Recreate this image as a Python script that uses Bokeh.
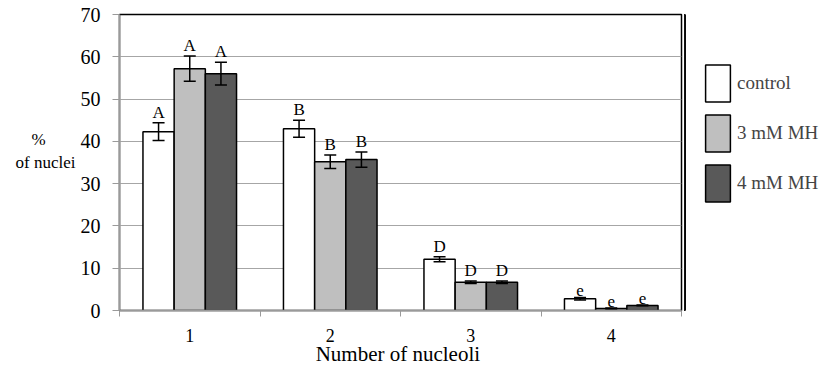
from bokeh.plotting import figure
from bokeh.layouts import row
from bokeh.models import (ColumnDataSource, FixedTicker, Whisker,
                          Legend, LegendItem, Range1d)
from bokeh.core.properties import value
from bokeh.embed import file_html
from bokeh.resources import INLINE

categories = [1, 2, 3, 4]
series = ["control", "3 mM MH", "4 mM MH"]
control = [42.3, 43.0, 12.1, 2.8]
mh3 = [57.2, 35.2, 6.7, 0.5]
mh4 = [56.0, 35.7, 6.7, 1.2]
control_err = [2.1, 2.0, 0.6, 0.3]
mh3_err = [3.0, 1.6, 0.3, 0.1]
mh4_err = [2.7, 1.8, 0.3, 0.1]
control_letters = ["A", "B", "D", "e"]
mh3_letters = ["A", "B", "D", "e"]
mh4_letters = ["A", "B", "D", "e"]
y_ticks = [0, 10, 20, 30, 40, 50, 60, 70]

SERIF = "'Liberation Serif', 'Times New Roman', serif"
colors = ["#ffffff", "#bfbfbf", "#595959"]
offsets = [-0.222, 0.0, 0.222]
bar_w = 0.222

W, H = 826, 368
W1 = 684
p = figure(width=W1, height=H, output_backend="svg", toolbar_location=None,
           x_range=Range1d(0.5, 4.5), y_range=Range1d(0, 70),
           min_border_left=119, min_border_right=W1 - 681, min_border_top=14,
           min_border_bottom=H - 310)
p.outline_line_color = "black"
p.outline_line_width = 1.5
p.background_fill_color = "white"
p.border_fill_color = "white"

all_vals = [control, mh3, mh4]
for vals, errs, letters, col, off in zip(all_vals,
                                         [control_err, mh3_err, mh4_err],
                                         [control_letters, mh3_letters, mh4_letters],
                                         colors, offsets):
    xs = [c + off for c in categories]
    src = ColumnDataSource(dict(x=xs, top=vals,
                                upper=[v + e for v, e in zip(vals, errs)],
                                lower=[v - e for v, e in zip(vals, errs)],
                                letter=letters))
    p.vbar(x="x", top="top", bottom=0, width=bar_w, source=src,
           fill_color=col, line_color="black", line_width=1.5)
    w = Whisker(base="x", upper="upper", lower="lower", source=src,
                line_color="black", line_width=1.5, level="overlay")
    w.upper_head.size = 12
    w.lower_head.size = 12
    w.upper_head.line_width = 1.5
    w.lower_head.line_width = 1.5
    p.add_layout(w)
    p.text(x="x", y="upper", text="letter", source=src,
           text_font=value(SERIF), text_font_size="17px",
           text_align="center", text_baseline="bottom", y_offset=-1,
           text_color="black")

# Axes
p.yaxis.ticker = FixedTicker(ticks=y_ticks)
p.yaxis.axis_line_color = "#9a9a9a"
p.yaxis.axis_line_width = 1.5
p.yaxis.major_tick_line_color = "#9a9a9a"
p.yaxis.major_tick_out = 7
p.yaxis.major_tick_in = 0
p.yaxis.minor_tick_line_color = None
p.yaxis.major_label_standoff = 12
p.yaxis.major_label_text_font = SERIF
p.yaxis.major_label_text_font_size = "20px"
p.yaxis.major_label_text_color = "black"
p.yaxis.axis_label = "%\u00a0\u00a0\u00a0\u00a0\u00a0\u00a0\u00a0\nof nuclei\n "
p.yaxis.axis_label_orientation = "horizontal"
p.yaxis.axis_label_text_font = SERIF
p.yaxis.axis_label_text_font_style = "normal"
p.yaxis.axis_label_text_font_size = "17px"
p.yaxis.axis_label_text_color = "black"
p.yaxis.axis_label_standoff = 2

p.xaxis.ticker = FixedTicker(ticks=categories, minor_ticks=[0.5, 1.5, 2.5, 3.5, 4.5])
p.xaxis.axis_line_color = "#9a9a9a"
p.xaxis.axis_line_width = 1.5
p.xaxis.major_tick_line_color = None
p.xaxis.minor_tick_line_color = "#9a9a9a"
p.xaxis.minor_tick_out = 6
p.xaxis.minor_tick_in = 0
p.xaxis.major_label_standoff = 12
p.xaxis.major_label_text_font = SERIF
p.xaxis.major_label_text_font_size = "18px"
p.xaxis.major_label_text_color = "black"
p.xaxis.axis_label = "Number  of nucleoli"
p.xaxis.axis_label_text_font = SERIF
p.xaxis.axis_label_text_font_style = "normal"
p.xaxis.axis_label_text_font_size = "21px"
p.xaxis.axis_label_text_color = "black"
p.xaxis.axis_label_standoff = -3

p.xgrid.grid_line_color = None
p.ygrid.grid_line_color = "#a6a6a6"
p.ygrid.grid_line_width = 1.2

# Legend panel (series drawn outside its visible range; only the legend shows)
p2 = figure(width=W - W1, height=H, output_backend="svg", toolbar_location=None,
            x_range=Range1d(100, 101), y_range=Range1d(0, 1),
            x_axis_type=None, y_axis_type=None,
            min_border_left=0, min_border_right=0, min_border_top=0,
            min_border_bottom=0)
p2.outline_line_color = None
p2.xgrid.grid_line_color = None
p2.ygrid.grid_line_color = None
leg_renderers = []
for vals, col in zip(all_vals, colors):
    leg_renderers.append(p2.vbar(x=categories, top=vals, width=bar_w, fill_color=col,
                                 line_color="black", line_width=1.5))
legend = Legend(items=[LegendItem(label=s, renderers=[r]) for s, r in zip(series, leg_renderers)],
                location=(18, 104), glyph_width=31, glyph_height=46, spacing=4,
                padding=0, margin=0, label_standoff=4,
                label_text_font=SERIF, label_text_font_size="19px",
                border_line_color=None, background_fill_alpha=0)
p2.add_layout(legend)

open("out.html", "w").write(file_html(row(p, p2), INLINE))
